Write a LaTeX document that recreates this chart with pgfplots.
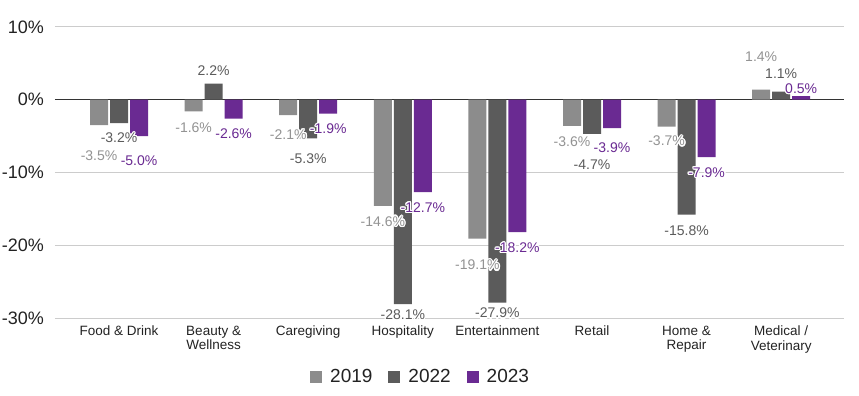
\documentclass[border=0pt]{standalone}
\usepackage{fontspec}
\setmainfont{Liberation Sans}
\usepackage{pgfplots}
\usepackage{pgfplotstable}
\usepackage{contour}
\contourlength{1.2pt}
\pgfplotsset{compat=1.18}
\definecolor{c19}{HTML}{8C8C8C}
\definecolor{c22}{HTML}{5B5B5B}
\definecolor{c23}{HTML}{6A2A92}
\definecolor{l19}{HTML}{939393}
\definecolor{gridc}{HTML}{CCCCCC}
\definecolor{zeroc}{HTML}{333333}
\definecolor{txt}{HTML}{222222}

\pgfplotstableread{
x v19 v22 v23 d19 d22 d23
0 -3.5 -3.2 -5.0 -29.5 -13.4 -23.6
1 -1.6 2.2 -2.6 -14.4 14 -13.7
2 -2.1 -5.3 -1.9 -18 -19 -14
3 -14.6 -28.1 -12.7 -14 -9 -14
4 -19.1 -27.9 -18.2 -25 -9 -14.4
5 -3.6 -4.7 -3.9 -14 -29 -18
6 -3.7 -15.8 -7.9 -13 -15 -14
7 1.4 1.1 0.5 34 19 9
}\data

\begin{document}
\begin{tikzpicture}
\path[use as bounding box] (-55pt,-78pt) rectangle (804pt,318pt);
\begin{axis}[
  at={(0pt,0pt)}, anchor=south west,
  scale only axis, width=789pt, height=291pt,
  ymin=-30, ymax=10, xmin=-0.677, xmax=7.664,
  ybar=2pt, bar width=18pt,
  axis line style={draw=none},
  major tick length=0pt,
  ytick={-30,-20,-10,0,10},
  yticklabels={-30\%,-20\%,-10\%,0\%,10\%},
  yticklabel style={font=\fontsize{18}{20}\selectfont, color=txt, inner sep=0pt, xshift=-11pt},
  ymajorgrids, grid style={gridc, line width=1pt},
  extra y ticks={0}, extra y tick labels={},
  extra y tick style={grid style={zeroc, line width=1pt}},
  xtick={0,...,7},
  xticklabels={Food \& Drink, {Beauty \&\\Wellness}, Caregiving, Hospitality, Entertainment, Retail, {Home \&\\Repair}, {Medical /\\Veterinary}},
  xticklabel style={font=\fontsize{13.5}{14.3}\selectfont, color=txt, align=center, inner sep=0pt, yshift=-8pt},
  point meta=explicit symbolic,
  nodes near coords={\contour{white}{\pgfplotspointmeta\%}},
  every node near coord/.append style={font=\fontsize{14}{16}\selectfont, anchor=center, yshift=\dy pt - 2pt},
  legend columns=3,
  legend style={at={(0.3232,-0.2027)}, anchor=west, draw=none, inner sep=0pt,
    font=\fontsize{19}{20}\selectfont, text=txt,
    /tikz/every odd column/.append style={column sep=8pt},
    /tikz/every even column/.append style={column sep=16pt},
    nodes={inner sep=0pt}},
  legend image code/.code={\fill[#1] (0pt,-6pt) rectangle (12pt,6pt);},
]
\addplot[fill=c19, draw=none, every node near coord/.append style={color=l19},
  visualization depends on={\thisrow{d19}\as\dy}] table[x=x, y=v19, meta=v19]{\data};
\addplot[fill=c22, draw=none, every node near coord/.append style={color=c22},
  visualization depends on={\thisrow{d22}\as\dy}] table[x=x, y=v22, meta=v22]{\data};
\addplot[fill=c23, draw=none, every node near coord/.append style={color=c23},
  visualization depends on={\thisrow{d23}\as\dy}] table[x=x, y=v23, meta=v23]{\data};
\legend{2019,2022,2023}
\end{axis}
\end{tikzpicture}
\end{document}
